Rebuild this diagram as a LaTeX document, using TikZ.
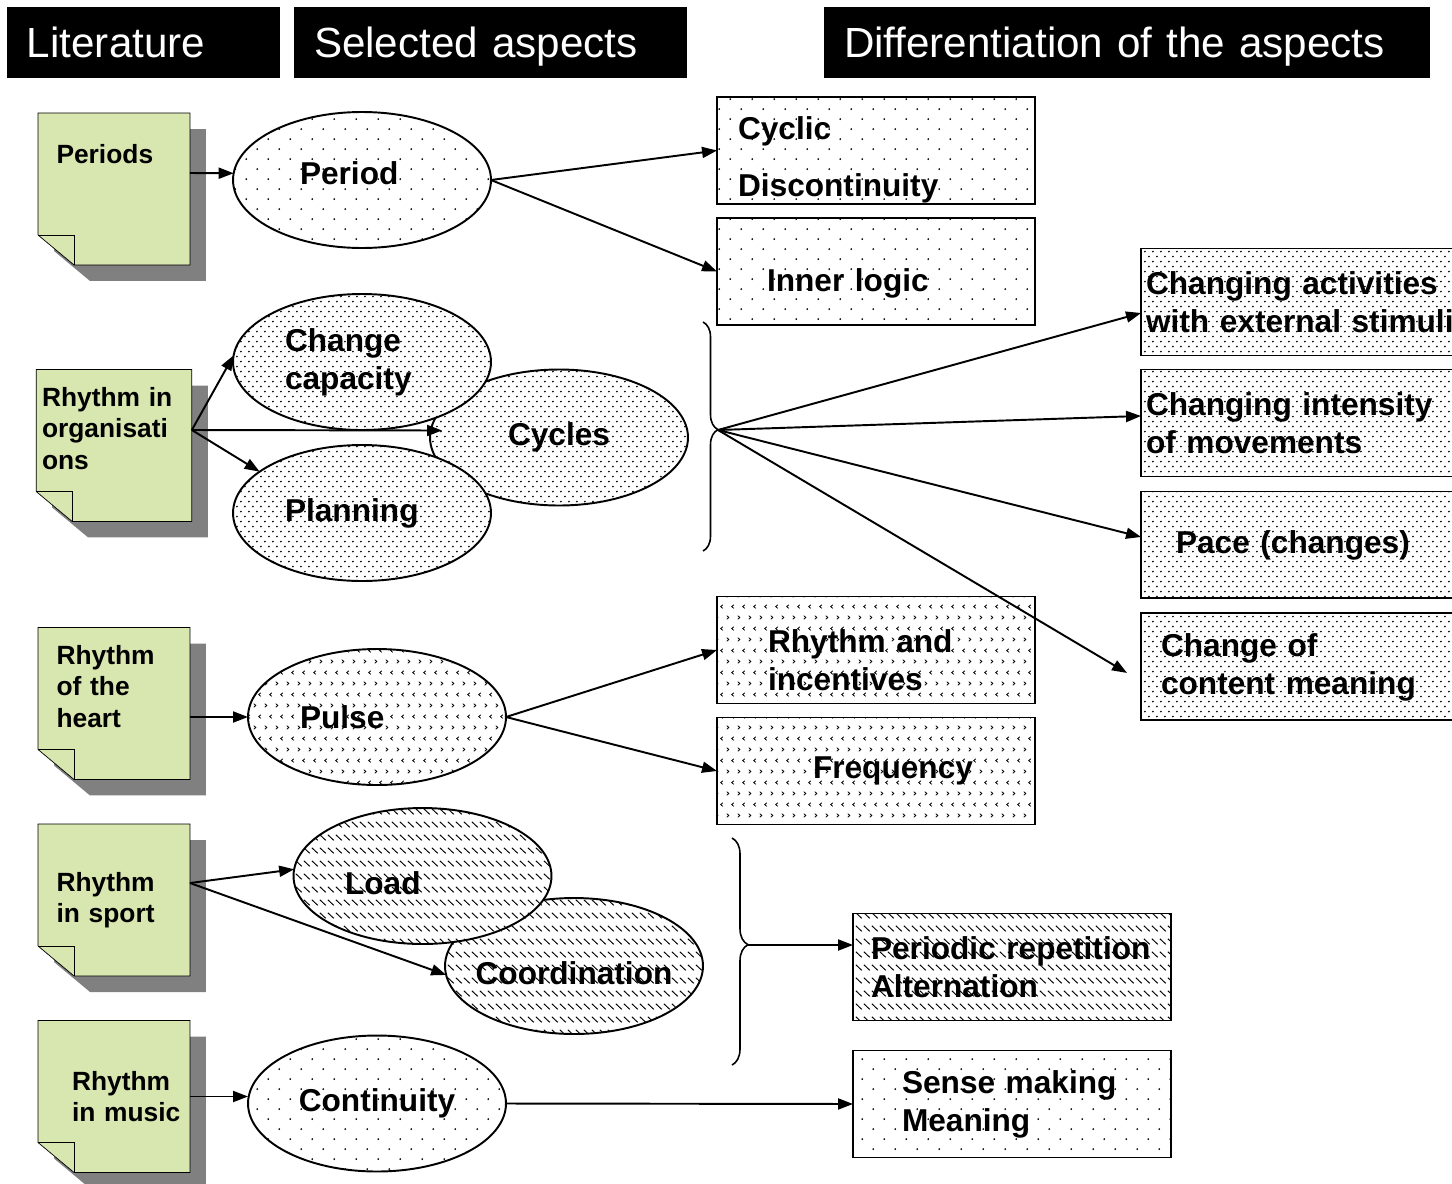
\documentclass[tikz,border=0pt]{standalone}
\usepackage{fontspec}
\setmainfont{Liberation Sans}
\usepackage{tikz}
\usetikzlibrary{arrows.meta,backgrounds,calc,decorations.pathreplacing,patterns.meta,positioning,shapes.geometric}
\definecolor{notegreen}{RGB}{216,230,176}
\definecolor{notegray}{RGB}{128,128,128}

\tikzdeclarepattern{
  name=sparsedots,
  bottom left={(0pt,0pt)},
  top right={(12.52pt,11.38pt)},
  tile size={(12.52pt,11.38pt)},
  code={
    \tikzset{x=1pt,y=1pt}
    \fill (3,2.8) circle (0.55pt);
    \fill (9.26,8.49) circle (0.55pt);
  }
}
\tikzdeclarepattern{
  name=densedots,
  bottom left={(0pt,0pt)},
  top right={(4.55pt,5.69pt)},
  tile size={(4.55pt,5.69pt)},
  code={
    \tikzset{x=1pt,y=1pt}
    \fill (1.1,1.4) circle (0.55pt);
    \fill (3.38,4.25) circle (0.55pt);
  }
}
\tikzdeclarepattern{
  name=chevrons,
  bottom left={(0pt,0pt)},
  top right={(6.26pt,12.5pt)},
  tile size={(6.26pt,12.5pt)},
  code={
    \tikzset{x=1pt,y=1pt}
    \draw[line width=0.45pt] (1,10.4) -- (2.2,9.4) -- (1,8.4);
    \draw[line width=0.45pt] (5,4.1) -- (3.8,3.1) -- (5,2.1);
  }
}
\tikzdeclarepattern{
  name=hatch,
  bottom left={(0pt,0pt)},
  top right={(4.55pt,7.4pt)},
  tile size={(4.55pt,7.4pt)},
  code={
    \tikzset{x=1pt,y=1pt}
    \draw[line width=0.55pt] (0.5,6.2) -- (3.9,2.8);
  }
}

\begin{document}
\begin{tikzpicture}[x=0.02cm, y=-0.02cm, >={Triangle[length=0.3cm,width=0.22cm]}, line width=1.1pt,
  every node/.style={outer sep=0pt},
  head/.style={fill=black, text=white, anchor=west, minimum height=1.42cm, inner xsep=0.4cm, text width=#1, text height=0.61cm, text depth=0cm, align=left, font=\fontsize{24}{28}\selectfont},
  note/.style={rectangle, minimum width=3.04cm, minimum height=3.04cm, text width=#1, align=left, font=\bfseries\fontsize{15}{18}\selectfont},
  sel/.style={ellipse, draw, preaction={fill=white}, minimum width=5.16cm, minimum height=2.72cm, align=left, font=\bfseries\fontsize{18}{21.6}\selectfont},
  aspect/.style={draw, rectangle, minimum width=6.36cm, minimum height=2.14cm, inner xsep=0pt, text width=#1, align=left, font=\bfseries\fontsize{18}{21.6}\selectfont}]
  \useasboundingbox (0,0) rectangle (1452,1183);

  % headings
  \node[head=4.66cm] (hlit) at (7,42.5) {Literature};
  \node[head=7.06cm] (hsel) at (294,42.5) {Selected aspects};
  \node[head=11.32cm] (hdiff) at (824,42.5) {Differentiation of the aspects};

  % literature
  \node[note=2.3cm, text depth=1.4cm] (periods) at (114,189) {Periods};
  \node[note=2.88cm, text depth=1.95cm] (org) at (114,445.5) {Rhythm in\\organisati\\ons};
  \node[note=2.3cm, text depth=1.95cm] (heart) at (114,703.5) {Rhythm\\of the\\heart};
  \node[note=2.3cm] (sport) at (114,900) {Rhythm\\in sport};
  \node[note=1.68cm] (music) at (114,1096.5) {Rhythm\\\mbox{in music}};
  \begin{scope}[on background layer]
    \foreach \n in {periods,org,heart,sport,music} {
      \fill[notegray] ($(\n.north west)+(16,16)$) -- ($(\n.north east)+(16,16)$) -- ($(\n.south east)+(16,16)$) -- ($(\n.south west)+(52,16)$) -- ($(\n.south west)+(16,-14)$) -- cycle;
      \filldraw[fill=notegreen] (\n.north west) -- (\n.north east) -- (\n.south east) -- ($(\n.south west)+(36,0)$) -- ($(\n.south west)+(0,-30)$) -- cycle;
      \draw ($(\n.south west)+(0,-30)$) -| ($(\n.south west)+(36,0)$);
    }
  \end{scope}

  % selected aspects
  \node[sel, pattern=sparsedots, text width=2.48cm, text depth=0.28cm] (period) at (362,180) {Period};
  \node[sel, pattern=densedots] (cycles) at (559,437.5) {Cycles};
  \node[sel, pattern=densedots, text width=3.08cm] (change) at (362,362) {Change\\capacity};
  \node[sel, pattern=densedots, text width=3.08cm] (planning) at (362,513) {Planning};
  \node[sel, pattern=chevrons, text width=3.08cm] (pulse) at (377,717) {Pulse};
  \node[sel, pattern=hatch, inner xsep=-0.15cm, text height=0.75cm] (coord) at (574,966) {Coordination};
  \node[sel, pattern=hatch, text width=3.1cm, text height=0.75cm] (load) at (422.5,876) {Load};
  \node[sel, pattern=sparsedots] (cont) at (377,1103.5) {Continuity};

  % differentiation
  \node[aspect=5.52cm, pattern=sparsedots, inner ysep=0pt, text height=0.83cm] (cyclic) at (876,150.5) {Cyclic\\[0.38cm]Discontinuity};
  \node[aspect=4.36cm, pattern=sparsedots, text height=0.94cm, below=0.28cm of cyclic] (inner) {Inner logic};
  \node[aspect=6.16cm, pattern=densedots] (stimuli) at (1300,302) {Changing activities\\with external stimuli};
  \node[aspect=6.16cm, pattern=densedots, below=0.28cm of stimuli] (intensity) {Changing intensity\\of movements};
  \node[aspect=4.96cm, pattern=densedots, below=0.3cm of intensity] (pace) {Pace (changes)};
  \node[aspect=5.56cm, pattern=densedots, below=0.3cm of pace] (meaning) {Change of\\content meaning};
  \node[aspect=4.32cm, pattern=chevrons, text height=0.86cm] (incent) at (876,650) {Rhythm and\\incentives};
  \node[aspect=2.52cm, pattern=chevrons, below=0.28cm of incent] (freq) {Frequency};
  \node[aspect=5.64cm, pattern=hatch] (periodic) at (1012,967) {Periodic repetition\\Alternation};
  \node[aspect=4.4cm, pattern=sparsedots, below=0.6cm of periodic] (sense) {Sense making\\Meaning};

  % braces
  \draw[line width=0.9pt, decorate, decoration={brace, amplitude=0.3cm, aspect=0.47}] (703,322) -- (703,551);
  \coordinate (brace1) at (718,430);
  \draw[line width=0.9pt, decorate, decoration={brace, amplitude=0.32cm, aspect=0.47}] (732,838) -- (732,1065);
  \coordinate (brace2) at (748,945);

  % arrows
  \draw[->] ([yshift=0.32cm]periods.east) -- (period.177);
  \draw[->] (period.east) -- (cyclic.west);
  \draw[->] (period.east) -- (inner.west);
  \draw[->] ([yshift=0.31cm]org.east) -- (change.177);
  \draw[->] ([yshift=0.31cm]org.east) -- ([shift={(12,-7)}]cycles.west);
  \draw[->] ([yshift=0.31cm]org.east) -- (planning.158);
  \draw[->] (brace1) -- ([yshift=-0.22cm]stimuli.west);
  \draw[->] (brace1) -- ([yshift=0.14cm]intensity.west);
  \draw[->] (brace1) -- ([yshift=0.16cm]pace.west);
  \draw[->] (brace1) -- ([shift={(-14,6)}]meaning.west);
  \draw[->] (pulse.west -| heart.east) -- (pulse.west);
  \draw[->] (pulse.east) -- (incent.west);
  \draw[->] (pulse.east) -- (freq.west);
  \draw[->] ([yshift=0.34cm]sport.east) -- (load.177);
  \draw[->] ([yshift=0.34cm]sport.east) -- (coord.184);
  \draw[->] (brace2) -- (brace2 -| periodic.west);
  \draw[->] (music.east) -- (music.east -| cont.west);
  \draw[->] (cont.east) -- (sense.west);
\end{tikzpicture}
\end{document}
